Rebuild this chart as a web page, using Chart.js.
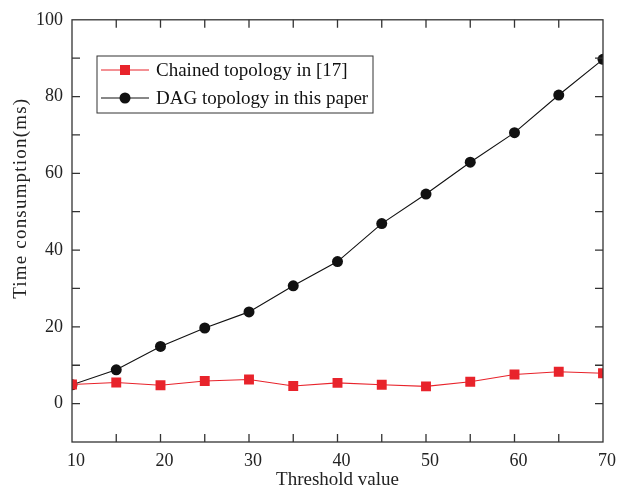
<!DOCTYPE html>
<html>
<head>
<meta charset="utf-8">
<script src="https://cdn.jsdelivr.net/npm/chart.js@4/dist/chart.umd.min.js"></script>
<style>
  html, body { margin: 0; padding: 0; background: #fff; }
  #wrap { width: 620px; height: 487px; }
</style>
</head>
<body>
<div id="wrap"><canvas id="c" width="620" height="487"></canvas></div>
<script>
// threshold values on the x axis
const thresholds = [10, 15, 20, 25, 30, 35, 40, 45, 50, 55, 60, 65, 70];
// time consumption (ms)
const chainedTime = [5.0, 5.5, 4.8, 5.9, 6.3, 4.6, 5.4, 4.9, 4.5, 5.7, 7.6, 8.3, 7.9];
const dagTime = [4.9, 8.8, 14.9, 19.7, 23.9, 30.7, 37.0, 46.9, 54.6, 62.9, 70.6, 80.4, 89.7];
const xLabels = [10, 20, 30, 40, 50, 60, 70];
const yLabels = [0, 20, 40, 60, 80, 100];

const FONT = "'Liberation Serif', 'DejaVu Serif', serif";
const RED = '#e8232b';

function pts(ys) { return thresholds.map((x, i) => ({ x, y: ys[i] })); }

// frame + inward ticks on all four sides, plus the y title
const framePlugin = {
  id: 'frame',
  afterDraw(chart) {
    const { ctx, chartArea: a, scales: { x, y } } = chart;
    ctx.save();
    ctx.strokeStyle = '#333';
    ctx.lineWidth = 1.3;
    ctx.strokeRect(a.left, a.top, a.right - a.left, a.bottom - a.top);
    ctx.beginPath();
    for (let v = 15; v < 70; v += 5) {
      const px = x.getPixelForValue(v);
      ctx.moveTo(px, a.bottom); ctx.lineTo(px, a.bottom - 8);
      ctx.moveTo(px, a.top); ctx.lineTo(px, a.top + 8);
    }
    for (let v = 0; v < 100; v += 10) {
      const py = y.getPixelForValue(v);
      ctx.moveTo(a.left, py); ctx.lineTo(a.left + 8, py);
      ctx.moveTo(a.right, py); ctx.lineTo(a.right - 8, py);
    }
    ctx.stroke();
    // y title sits a bit above the middle in the original, loosely spaced
    ctx.translate(21, y.getPixelForValue(53.5));
    ctx.rotate(-Math.PI / 2);
    ctx.font = '19px ' + FONT;
    ctx.letterSpacing = '1.2px';
    ctx.fillStyle = '#222';
    ctx.textAlign = 'center';
    ctx.textBaseline = 'middle';
    ctx.fillText('Time consumption(ms)', 0, 0);
    ctx.restore();
  }
};

// legend box inside plot area
const legendPlugin = {
  id: 'boxLegend',
  afterDraw(chart) {
    const ctx = chart.ctx;
    const bx = 97, by = 56, bw = 276, bh = 57;
    ctx.save();
    ctx.strokeStyle = '#333';
    ctx.lineWidth = 1;
    ctx.strokeRect(bx, by, bw, bh);
    ctx.font = '19px ' + FONT;
    ctx.textBaseline = 'middle';
    chart.data.datasets.forEach((ds, i) => {
      const cy = by + 14 + i * 28;
      ctx.strokeStyle = ds.borderColor;
      ctx.lineWidth = 1;
      ctx.beginPath(); ctx.moveTo(bx + 4, cy); ctx.lineTo(bx + 52, cy); ctx.stroke();
      ctx.fillStyle = ds.pointBackgroundColor;
      if (ds.pointStyle === 'rect') ctx.fillRect(bx + 23, cy - 5, 10, 10);
      else { ctx.beginPath(); ctx.arc(bx + 28, cy, 5.5, 0, Math.PI * 2); ctx.fill(); }
      ctx.fillStyle = '#111';
      ctx.fillText(ds.label, bx + 59, cy + 1);
    });
    ctx.restore();
  }
};

new Chart(document.getElementById('c'), {
  type: 'line',
  data: {
    datasets: [
      { label: 'Chained topology in [17]', data: pts(chainedTime), borderColor: RED, borderWidth: 1.1,
        pointStyle: 'rect', pointRadius: 7, pointBackgroundColor: RED, pointBorderColor: RED, pointBorderWidth: 0 },
      { label: 'DAG topology in this paper', data: pts(dagTime), borderColor: '#111', borderWidth: 1.1,
        pointStyle: 'circle', pointRadius: 5.5, pointBackgroundColor: '#111', pointBorderColor: '#111', pointBorderWidth: 0 }
    ]
  },
  options: {
    responsive: false,
    animation: false,
    layout: { padding: { left: 0, top: 16, right: 17, bottom: 0 } },
    plugins: { legend: { display: false }, tooltip: { enabled: false } },
    scales: {
      x: {
        type: 'linear', min: 10, max: 70,
        afterBuildTicks: s => { s.ticks = xLabels.map(v => ({ value: v })); },
        afterFit: s => { s.height = 45; },
        grid: { display: false, drawTicks: false },
        border: { display: false },
        ticks: { color: '#222', padding: 8, labelOffset: 4, font: { family: FONT, size: 18 }, maxRotation: 0 },
        title: { display: true, text: 'Threshold value', color: '#222', padding: { top: 0, bottom: -4 }, font: { family: FONT, size: 19 } }
      },
      y: {
        min: -10, max: 100,
        afterBuildTicks: s => { s.ticks = yLabels.map(v => ({ value: v })); },
        afterFit: s => { s.width = 72; },
        grid: { display: false, drawTicks: false },
        border: { display: false },
        ticks: { color: '#222', padding: 9, font: { family: FONT, size: 18 } }
      }
    }
  },
  plugins: [framePlugin, legendPlugin]
});
</script>
</body>
</html>
